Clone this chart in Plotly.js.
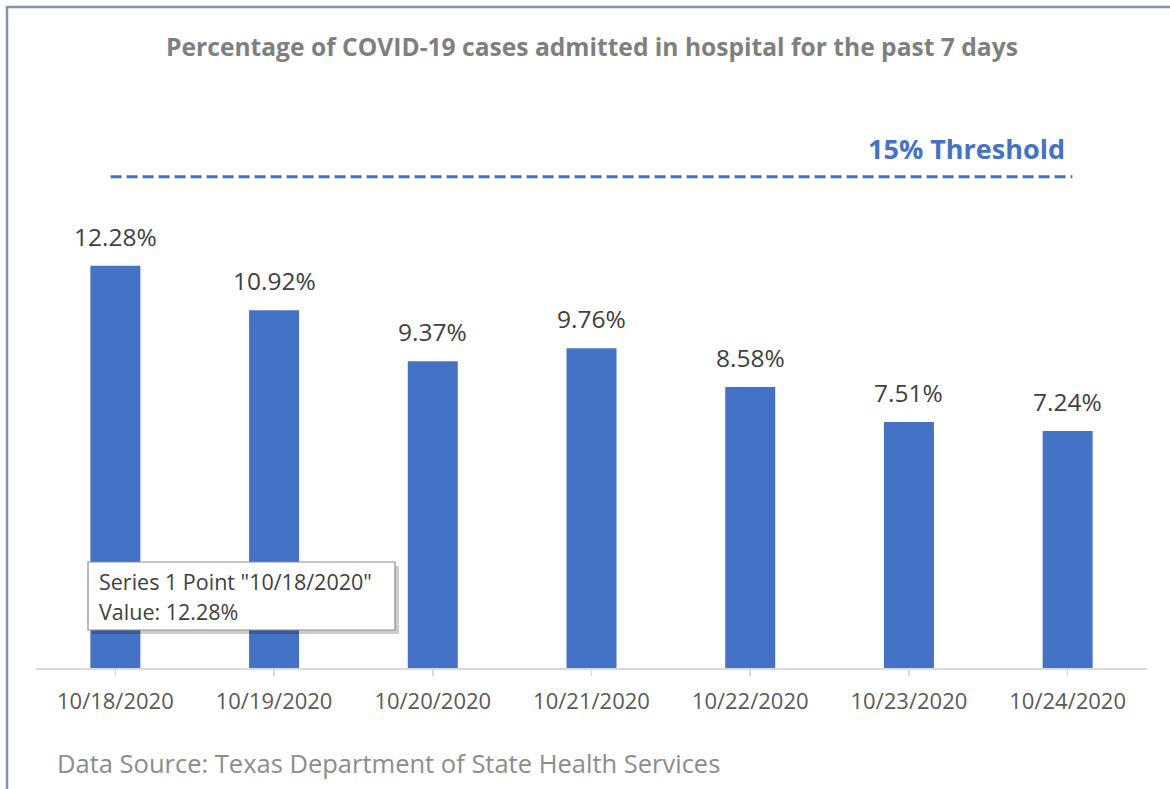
<!DOCTYPE html>
<html>
<head>
<meta charset="utf-8">
<script src="https://cdn.plot.ly/plotly-3.0.1.min.js"></script>
<style>html,body{margin:0;padding:0;background:#fff;}#chart{width:1170px;height:789px;}</style>
</head>
<body>
<div id="chart"></div>
<script>
const categories = ["10/18/2020","10/19/2020","10/20/2020","10/21/2020","10/22/2020","10/23/2020","10/24/2020"];
const values = [12.28, 10.92, 9.37, 9.76, 8.58, 7.51, 7.24];
const threshold = 15;
const titleText = "Percentage of COVID-19 cases admitted in hospital for the past 7 days";
const thresholdLabel = "15% Threshold";
const sourceText = "Data Source: Texas Department of State Health Services";
const tooltipLines = ['Series 1 Point "10/18/2020"', 'Value: 12.28%'];

const W = 1170, H = 789;
const L = 36, R = 23, T = 100, B = 121;
const plotW = W - L - R, plotH = H - T - B;
const px = x => (x - L) / plotW;
const py = y => (H - B - y) / plotH;
const FONT = '"Open Sans", "Noto Sans", sans-serif';
const BLUE = '#4472c4';

const trace = {
  type: 'bar',
  x: categories.map((c, i) => i),
  y: values,
  width: 0.315,
  marker: {color: BLUE},
  hoverinfo: 'skip'
};

const labelAnns = values.map((v, i) => ({
  x: i, y: v, xref: 'x', yref: 'y',
  text: v.toFixed(2) + '%',
  showarrow: false, yanchor: 'bottom', yshift: 11,
  font: {family: FONT, size: 24.5, color: '#404040'}
}));

const layout = {
  width: W, height: H,
  margin: {l: L, r: R, t: T, b: B},
  paper_bgcolor: '#ffffff', plot_bgcolor: '#ffffff',
  showlegend: false,
  hovermode: false,
  title: {
    text: titleText,
    font: {family: FONT, size: 24.6, color: '#7f7f7f', weight: 'bold'},
    x: 592 / W, xanchor: 'center', xref: 'container',
    y: 1 - 47 / H, yanchor: 'middle', yref: 'container'
  },
  xaxis: {
    range: [-0.5, 6.5],
    tickmode: 'array',
    tickvals: categories.map((c, i) => i),
    ticktext: categories,
    showgrid: false, zeroline: false,
    showline: true, linecolor: '#d9d9d9', linewidth: 1.5,
    ticks: 'outside', ticklen: 6, tickcolor: '#d9d9d9', tickwidth: 1.5,
    tickfont: {family: FONT, size: 22, color: '#595959'},
    ticklabelstandoff: 7,
    fixedrange: true
  },
  yaxis: {
    range: [0, plotH / 32.75],
    visible: false, showgrid: false, zeroline: false,
    fixedrange: true
  },
  shapes: [
    {type: 'rect', xref: 'paper', yref: 'paper',
     x0: px(7), x1: px(1250), y0: py(7), y1: py(900),
     line: {color: '#8393aa', width: 2.5}, fillcolor: 'rgba(0,0,0,0)', layer: 'above'},
    {type: 'line', xref: 'x', yref: 'y',
     x0: -0.03, x1: 6.03, y0: threshold, y1: threshold,
     line: {color: BLUE, width: 3, dash: '11px,5px'}, layer: 'above'},
    {type: 'rect', xref: 'paper', yref: 'paper',
     x0: px(92), x1: px(399), y0: py(566), y1: py(634),
     line: {width: 0}, fillcolor: 'rgba(0,0,0,0.2)', layer: 'above'},
    {type: 'rect', xref: 'paper', yref: 'paper',
     x0: px(88), x1: px(395), y0: py(562), y1: py(630),
     line: {color: '#8c8c8c', width: 1.2}, fillcolor: '#ffffff', layer: 'above'}
  ],
  annotations: labelAnns.concat([
    {xref: 'paper', yref: 'paper', x: px(1067), y: py(148), xanchor: 'right', yanchor: 'middle',
     text: thresholdLabel, showarrow: false,
     font: {family: FONT, size: 27, color: BLUE, weight: 'bold'}},
    {xref: 'paper', yref: 'paper', x: px(55), y: py(763), xanchor: 'left', yanchor: 'middle',
     text: sourceText, showarrow: false,
     font: {family: FONT, size: 25.5, color: '#8c8c8c'}},
    {xref: 'paper', yref: 'paper', x: px(97), y: py(581), xanchor: 'left', yanchor: 'middle',
     text: tooltipLines[0], showarrow: false,
     font: {family: FONT, size: 21.5, color: '#404040'}},
    {xref: 'paper', yref: 'paper', x: px(97), y: py(611), xanchor: 'left', yanchor: 'middle',
     text: tooltipLines[1], showarrow: false,
     font: {family: FONT, size: 21.5, color: '#404040'}}
  ])
};

Plotly.newPlot('chart', [trace], layout, {displayModeBar: false, staticPlot: true});
</script>
</body>
</html>
